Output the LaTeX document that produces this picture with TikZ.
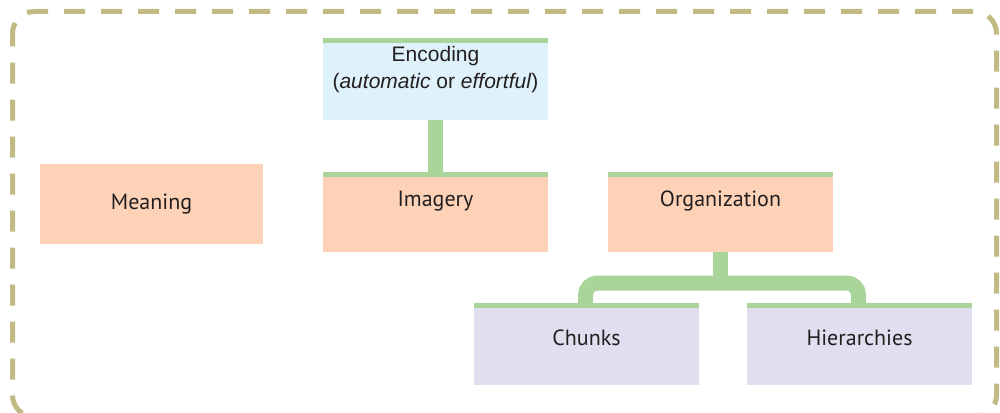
\documentclass[tikz,border=0pt]{standalone}
\usepackage{fontspec}
\setmainfont{PT Sans}
\newfontfamily\arialf{Liberation Sans}
\usetikzlibrary{calc}
\definecolor{peach}{HTML}{FDD2B7}
\definecolor{lblue}{HTML}{DFF1FB}
\definecolor{lav}{HTML}{E1DEEF}
\definecolor{grn}{HTML}{AAD59A}
\definecolor{brd}{HTML}{C1BA83}
\definecolor{txt}{HTML}{231F20}
\tikzset{
  box/.style={draw=none, anchor=north west, minimum width=225pt, minimum height=82pt, inner sep=0pt, outer sep=0pt},
  lbl/.style={text=txt, font=\fontsize{22}{26}\selectfont, inner sep=0pt, align=center},
  conn/.style={draw=grn, line width=15pt},
  topbar/.style={fill=grn},
}
\begin{document}
\begin{tikzpicture}[x=1pt,y=-1pt]
\useasboundingbox (0,0) rectangle (1000,412);
\begin{scope}
\clip (0,0) rectangle (1000,412);
\draw[brd, line width=5pt, dash pattern=on 21pt off 16pt, dash phase=8pt, rounded corners=22pt] (12.5,11.5) rectangle (996.5,417);
\end{scope}
% boxes
\node[box, fill=lblue, minimum height=82pt] (enc) at (323,38) {};
\node[box, fill=peach, minimum width=223pt, minimum height=80pt] (mea) at (40,164) {};
\node[box, fill=peach, minimum height=80pt] (img) at (323,172) {};
\node[box, fill=peach, minimum height=80pt] (org) at (608,172) {};
\node[box, fill=lav, minimum height=82pt] (chk) at (474,303) {};
\node[box, fill=lav, minimum height=82pt] (hie) at (747,303) {};
% connectors
\draw[conn] (enc.south) -- (img.north);
\coordinate (jl) at ($(chk.north)+(-1,0)$);
\coordinate (jr) at ($(hie.north)+(-1,0)$);
\coordinate (jo) at ($(org.south)+(0,0)$);
\draw[conn] (jo) -- ($(jo)+(0,31)$);
\draw[conn, rounded corners=12pt] (jl) -- ($(jl|-jo)+(0,31)$) -- ($(jr|-jo)+(0,31)$) -- (jr);
% top bars
\foreach \b in {enc,img,org,chk,hie}{
  \fill[grn] (\b.north west) rectangle ($(\b.north east)+(0,5)$);
}
% labels
\node[lbl, font=\arialf\fontsize{21}{27}\selectfont] (encl) at ($(enc.north)+(0,32)$) {Encoding\\(\textit{automatic} or \textit{effortful})};
\node[lbl] (meal) at ($(mea.center)+(0,0)$) {Meaning};
\node[lbl] (imgl) at ($(img.north)+(0,29)$) {Imagery};
\node[lbl] (orgl) at ($(org.north)+(0,29)$) {Organization};
\node[lbl] (chkl) at ($(chk.north)+(0,35)$) {Chunks};
\node[lbl] (hiel) at ($(hie.north)+(0,35)$) {Hierarchies};
\end{tikzpicture}
\end{document}
